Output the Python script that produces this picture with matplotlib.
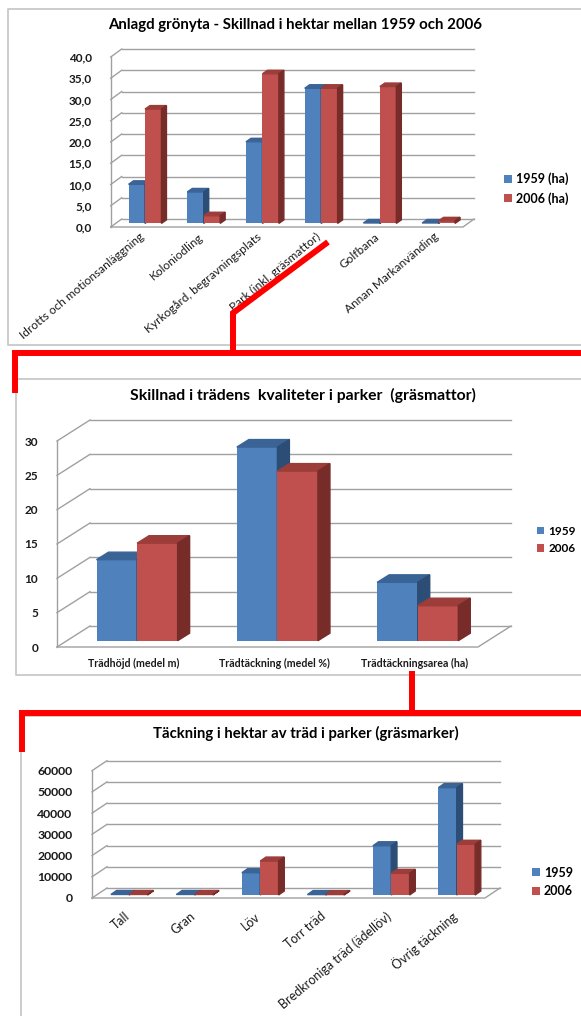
import numpy as np
import matplotlib
matplotlib.use("Agg")
import matplotlib.pyplot as plt
from matplotlib.patches import Polygon

plt.rcParams['font.family'] = ['Lato', 'DejaVu Sans']

W, H = 581, 1016

# ---- data ----
cats1 = ["Idrotts och motionsanläggning", "Koloniodling", "Kyrkogård, begravningsplats",
         "Park (inkl. gräsmattor)", "Golfbana", "Annan Markanvänding"]
v1959_1 = [9.2, 7.4, 19.2, 31.8, 0.1, 0.1]
v2006_1 = [26.9, 1.8, 35.2, 31.8, 32.2, 0.6]
leg1 = ["1959 (ha)", "2006 (ha)"]
title1 = "Anlagd grönyta - Skillnad i hektar mellan 1959 och 2006"

cats2 = ["Trädhöjd (medel m)", "Trädtäckning (medel %)", "Trädtäckningsarea (ha)"]
v1959_2 = [11.8, 28.2, 8.5]
v2006_2 = [14.2, 24.7, 5.1]
leg2 = ["1959", "2006"]
title2 = "Skillnad i trädens  kvaliteter i parker  (gräsmattor)"

cats3 = ["Tall", "Gran", "Löv", "Torr träd", "Bredkroniga träd (ädellöv)", "Övrig täckning"]
v1959_3 = [250, 250, 10500, 200, 23200, 50600]
v2006_3 = [250, 250, 16000, 200, 10200, 23900]
leg3 = ["1959", "2006"]
title3 = "Täckning i hektar av träd i parker (gräsmarker)"

BLUE = ("#4f81bd", "#3a6396", "#2c4d75")
RED = ("#c0504d", "#9c3d3a", "#772c2a")
GRID = "#a0a0a0"

fig = plt.figure(figsize=(W / 100, H / 100), dpi=100)

# overlay for frames and red connectors (pixel coords)
ov = fig.add_axes([0, 0, 1, 1], zorder=5)
ov.set_xlim(0, W)
ov.set_ylim(H, 0)
ov.axis('off')
ov.patch.set_alpha(0)


def px_axes(x0, x1, ytop, ybot):
    return fig.add_axes([x0 / W, 1 - ybot / H, (x1 - x0) / W, (ybot - ytop) / H], zorder=2)


def chart(rect, cats, a, b, ymax, step, fmt, dpx, bdpx, f, bw, ticksize,
          xrot, xpad, xsize, xweight):
    x0, x1, ytop, ybot = rect
    ax = px_axes(x0, x1, ytop, ybot)
    n = len(cats)
    wpx, hpx = x1 - x0, ybot - ytop
    ddx, ddy = dpx[0] / wpx * n, dpx[1] / hpx * ymax
    bdx, bdy = bdpx[0] / wpx * n, bdpx[1] / hpx * ymax
    ax.set_xlim(0, n)
    ax.set_ylim(0, ymax)
    for s in ax.spines.values():
        s.set_visible(False)
    ax.patch.set_alpha(0)

    ticks = np.arange(0, ymax + step / 2, step)
    for t in ticks:
        ax.plot([ddx, n + ddx], [t + ddy, t + ddy], color=GRID, lw=1, zorder=1, clip_on=False)
        ax.plot([0, ddx], [t, t + ddy], color=GRID, lw=1, zorder=1, clip_on=False)
    ax.plot([0, 0], [0, ymax], color=GRID, lw=1, zorder=1, clip_on=False)
    ax.plot([0, n, n + ddx], [0, 0, ddy], color=GRID, lw=1, zorder=1, clip_on=False)

    base = f * ddy
    centers = np.arange(n) + 0.5 + f * ddx
    handles = []
    z = 3
    for i in range(n):
        for k, (vals, col) in enumerate(((a, BLUE), (b, RED))):
            xl = centers[i] - bw + k * bw
            xr = xl + bw
            top = base + vals[i]
            r = ax.bar(xl, vals[i], width=bw, bottom=base, align='edge', color=col[0],
                       zorder=z, clip_on=False)
            if i == 0:
                handles.append(r)
            ax.add_patch(Polygon([(xl, top), (xr, top), (xr + bdx, top + bdy), (xl + bdx, top + bdy)],
                                 closed=True, color=col[1], zorder=z, clip_on=False))
            ax.add_patch(Polygon([(xr, base), (xr, top), (xr + bdx, top + bdy), (xr + bdx, base + bdy)],
                                 closed=True, color=col[2], zorder=z, clip_on=False))
            z += 1

    ax.set_yticks(ticks)
    ax.set_yticklabels([fmt(t) for t in ticks], fontsize=ticksize, fontweight='bold', color="#1a1a1a")
    ax.tick_params(axis='y', length=0, pad=ticksize * 1.6)
    ax.set_xticks(np.arange(n) + 0.5 + 0.05)
    if xrot:
        ax.set_xticklabels(cats, rotation=xrot, ha='right', va='center', rotation_mode='anchor',
                           fontsize=xsize, fontweight=xweight, color="#1a1a1a")
    else:
        ax.set_xticklabels(cats, fontsize=xsize, fontweight=xweight, color="#1a1a1a")
    ax.tick_params(axis='x', length=0, pad=xpad)
    return ax, handles


def legend(handles, labels, x, y, size):
    fig.legend(handles, labels, loc='center left', bbox_to_anchor=(x / W, 1 - y / H),
               frameon=False, handlelength=0.6, handleheight=0.6,
               handletextpad=0.35, labelspacing=0.55, borderpad=0, borderaxespad=0,
               prop={'weight': 'bold', 'size': size})


# ---- frames ----
frame = dict(color="#c8c8c8", lw=1.3)
ov.plot([W, 7.5, 7.5, W], [8.7, 8.7, 345, 345], **frame)
ov.plot([W, 15.5, 15.5, W], [379, 379, 675, 675], **frame)
ov.plot([W, 21, 21], [716, 716, H], **frame)

# ---- chart 1 ----
_, h1 = chart((110.7, 463, 57, 227), cats1, v1959_1, v2006_1, 40, 5,
              lambda t: f"{t:.1f}".replace('.', ','), (11, 8), (5, 3.5), 0.45, 0.28, 8.5,
              40, 6, 8.6, 'normal')
fig.text(295 / W, 1 - 25 / H, title1, ha='center', va='center', fontsize=10.8, fontweight='bold')
legend(h1, leg1, 504, 188.5, 9)

# ---- chart 2 ----
_, h2 = chart((57, 478, 441, 647), cats2, v1959_2, v2006_2, 30, 5,
              lambda t: f"{t:.0f}", (33, 21), (12, 7.5), 0.3, 0.289, 8.5,
              0, 8, 7.7, 'bold')
fig.text(303 / W, 1 - 395 / H, title2, ha='center', va='center', fontsize=11.3, fontweight='bold')
legend(h2, leg2, 537, 540, 8.5)

# ---- chart 3 ----
_, h3 = chart((92, 485, 770.7, 898), cats3, v1959_3, v2006_3, 60000, 10000,
              lambda t: f"{t:.0f}", (15, 10), (5.7, 4), 0.3, 0.28, 8.8,
              40, 12, 9, 'normal')
fig.text(306 / W, 1 - 733 / H, title3, ha='center', va='center', fontsize=10.7, fontweight='bold')
legend(h3, leg3, 532, 882, 9)

# ---- red connectors ----
red = dict(color="#ff0000", lw=4.3, solid_capstyle='butt', solid_joinstyle='miter')
ov.plot([328, 233, 233], [242, 313, 353], **red)
ov.plot([W, 15, 15], [353, 353, 393], **red)
ov.plot([411.5, 411.5], [671, 713], **red)
ov.plot([W, 21.5, 21.5], [713, 713, 752], **red)

fig.savefig("out.png", dpi=100)
